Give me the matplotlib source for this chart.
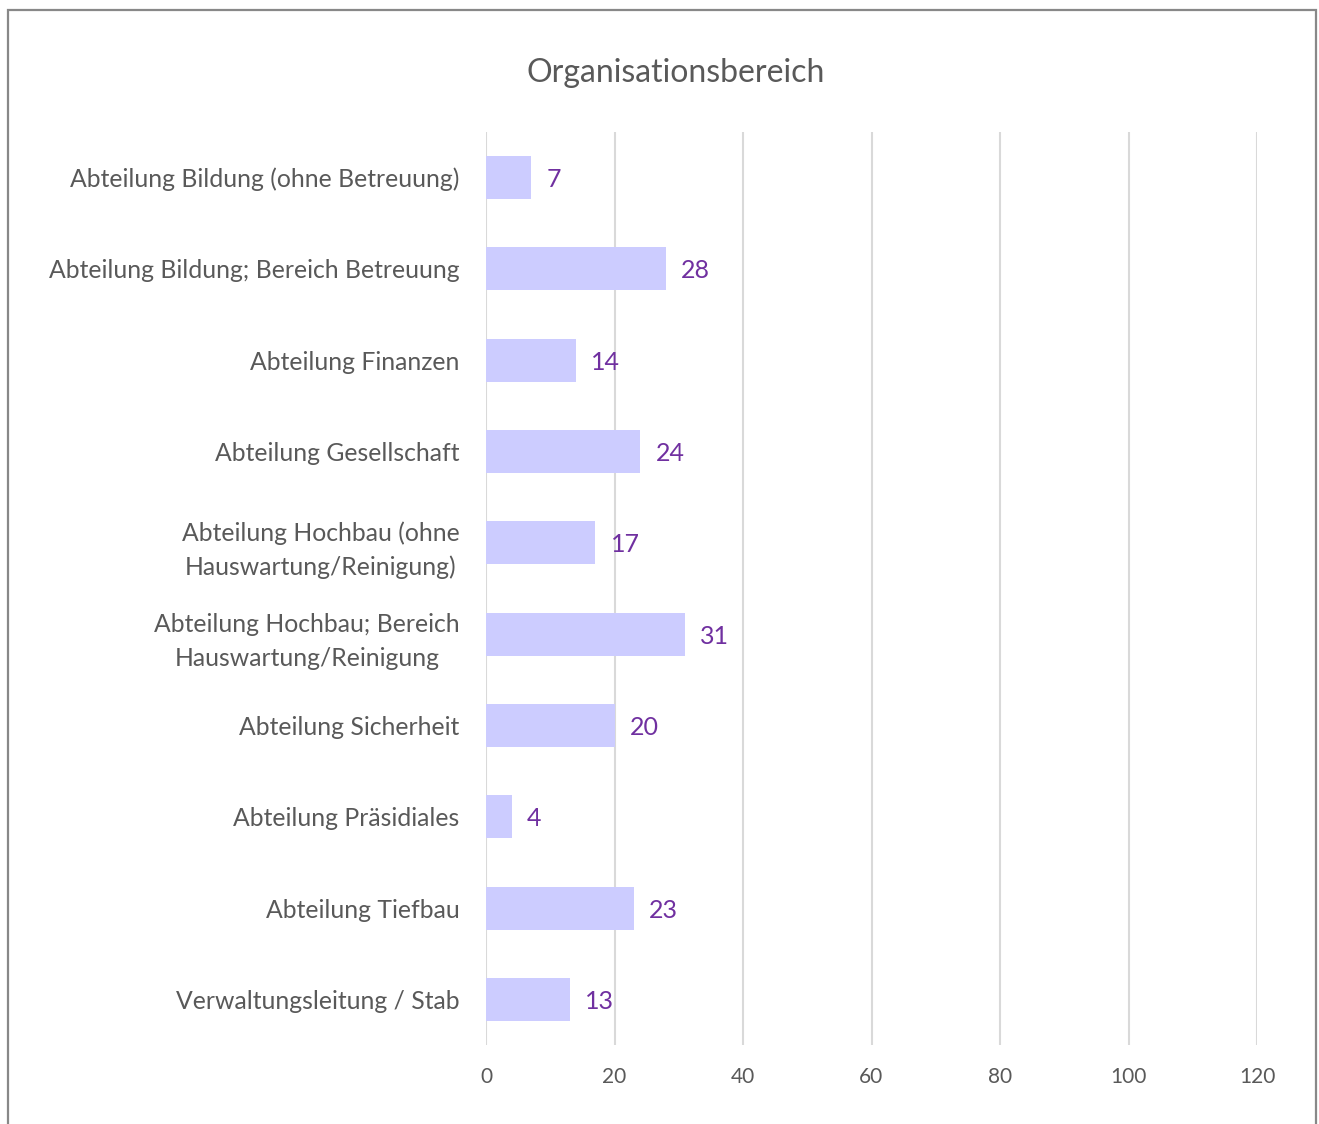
import matplotlib.pyplot as plt
from matplotlib.patches import Rectangle

plt.rcParams['font.family'] = ['Lato', 'DejaVu Sans']

categories = [
    "Abteilung Bildung (ohne Betreuung)",
    "Abteilung Bildung; Bereich Betreuung",
    "Abteilung Finanzen",
    "Abteilung Gesellschaft",
    "Abteilung Hochbau (ohne\nHauswartung/Reinigung)",
    "Abteilung Hochbau; Bereich\nHauswartung/Reinigung",
    "Abteilung Sicherheit",
    "Abteilung Präsidiales",
    "Abteilung Tiefbau",
    "Verwaltungsleitung / Stab",
]
values = [7, 28, 14, 24, 17, 31, 20, 4, 23, 13]
xticks = [0, 20, 40, 60, 80, 100, 120]

fig = plt.figure(figsize=(13.19, 11.24), dpi=100)
ax = fig.add_axes([486/1319, 1 - 1045/1124, (1257 - 486)/1319, (1045 - 132)/1124])

pos = list(range(len(categories)))
ax.barh(pos, values, height=0.47, color='#CCCCFF', zorder=3)
for p, v in zip(pos, values):
    ax.annotate(str(v), (v, p), xytext=(11, 0), textcoords='offset points',
                va='center_baseline', ha='left', fontsize=18, color='#7030A0')

ax.set_xlim(0, 120)
ax.set_ylim(len(categories) - 0.5, -0.5)
ax.set_xticks(xticks)
ax.set_yticks(pos)
ax.set_yticklabels(categories, multialignment='center', linespacing=1.55)
ax.tick_params(axis='y', length=0, pad=19, labelsize=17.8, labelcolor='#595959')
ax.tick_params(axis='x', length=0, pad=16, labelsize=15, labelcolor='#595959')
ax.grid(axis='x', color='#D9D9D9', linewidth=1.5, zorder=0)
for s in ax.spines.values():
    s.set_visible(False)

fig.text(676/1319, 1 - 73/1124, "Organisationsbereich", ha='center', va='center',
         fontsize=23, color='#595959')

fig.patches.append(Rectangle((8/1319, -0.02), (1316 - 8)/1319, 1 - 10/1124 + 0.02,
                             transform=fig.transFigure, fill=False,
                             edgecolor='#888888', linewidth=1.6))

fig.savefig('out.png', dpi=100)
